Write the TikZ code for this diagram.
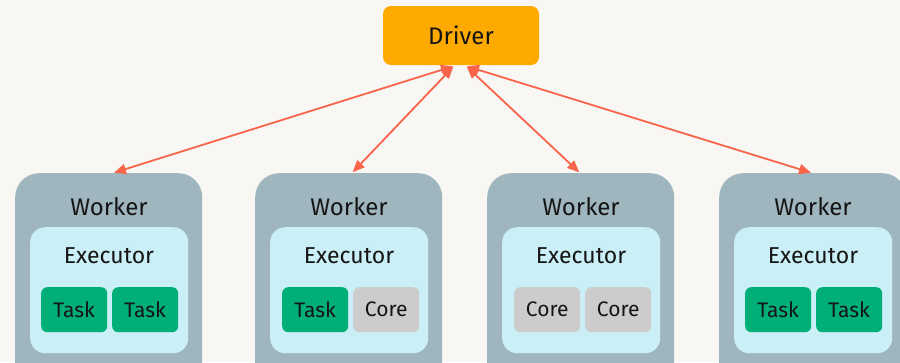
\documentclass[tikz,border=0pt]{standalone}
\usepackage{fontspec}
\setmainfont{Fira Sans}
\usetikzlibrary{arrows.meta}
\definecolor{bgc}{HTML}{F8F7F4}
\definecolor{drvc}{HTML}{FFAA00}
\definecolor{wrkc}{HTML}{9FB6BE}
\definecolor{exec}{HTML}{CBEFF7}
\definecolor{taskc}{HTML}{00AF78}
\definecolor{corec}{HTML}{CCCCCC}
\definecolor{linkc}{HTML}{F9654A}
\definecolor{txt}{HTML}{151515}
\tikzset{
  workerbox/.style={fill=wrkc, rounded corners=24pt, anchor=north west,
    minimum width=187pt, minimum height=230pt, inner sep=0pt},
  execbox/.style={fill=exec, rounded corners=15pt, anchor=north west,
    minimum width=158pt, minimum height=126pt, inner sep=0pt},
  slot/.style={rounded corners=6pt, anchor=north west, minimum width=66pt,
    minimum height=45pt, inner sep=0pt, text=txt, font=\fontsize{21}{23}\selectfont},
  taskbox/.style={slot, fill=taskc},
  corebox/.style={slot, fill=corec},
  wlabel/.style={text=txt, font=\fontsize{24}{26}\selectfont},
  elabel/.style={text=txt, font=\fontsize{23}{25}\selectfont},
  link/.style={draw=linkc, line width=1.8pt,
    {Triangle[length=12pt,width=10pt]}-{Triangle[length=12pt,width=10pt]}, shorten <=1pt, shorten >=1pt}
}
\begin{document}
\begin{tikzpicture}[x=1pt,y=-1pt]
\useasboundingbox (0,0) rectangle (900,362);
\clip (0,0) rectangle (900,362);
\fill[bgc] (0,0) rectangle (900,362);

% driver
\node[fill=drvc, rounded corners=8pt, minimum width=156pt, minimum height=59pt,
  inner sep=0pt, text=txt, font=\fontsize{24}{26}\selectfont] (drv) at (461,35.5) {Driver};

% workers with their executors
\foreach \n/\x in {1/15, 2/255, 3/487, 4/719}{
  \node[workerbox] (w\n) at (\x,173) {};
  \node[wlabel] (wl\n) at (\x+94,207) {Worker};
  \node[execbox] (e\n) at (\x+15,227) {};
  \node[elabel] (el\n) at (\x+94,256) {Executor};
}
% slots
\node[taskbox] (s11) at (41,287) {Task};
\node[taskbox] (s12) at (112,287) {Task};
\node[taskbox] (s21) at (282,287) {Task};
\node[corebox] (s22) at (353,287) {Core};
\node[corebox] (s31) at (514,287) {Core};
\node[corebox] (s32) at (585,287) {Core};
\node[taskbox] (s41) at (745,287) {Task};
\node[taskbox] (s42) at (816,287) {Task};

% connectors between driver and workers
\coordinate (dl) at (454,66);
\coordinate (dr) at (466,66);
\coordinate (t1) at (113,173);
\coordinate (t2) at (352,173);
\coordinate (t3) at (580,173);
\coordinate (t4) at (812,173);
\draw[link] (dl) -- (t1);
\draw[link] (dl) -- (t2);
\draw[link] (dr) -- (t3);
\draw[link] (dr) -- (t4);
\end{tikzpicture}
\end{document}
